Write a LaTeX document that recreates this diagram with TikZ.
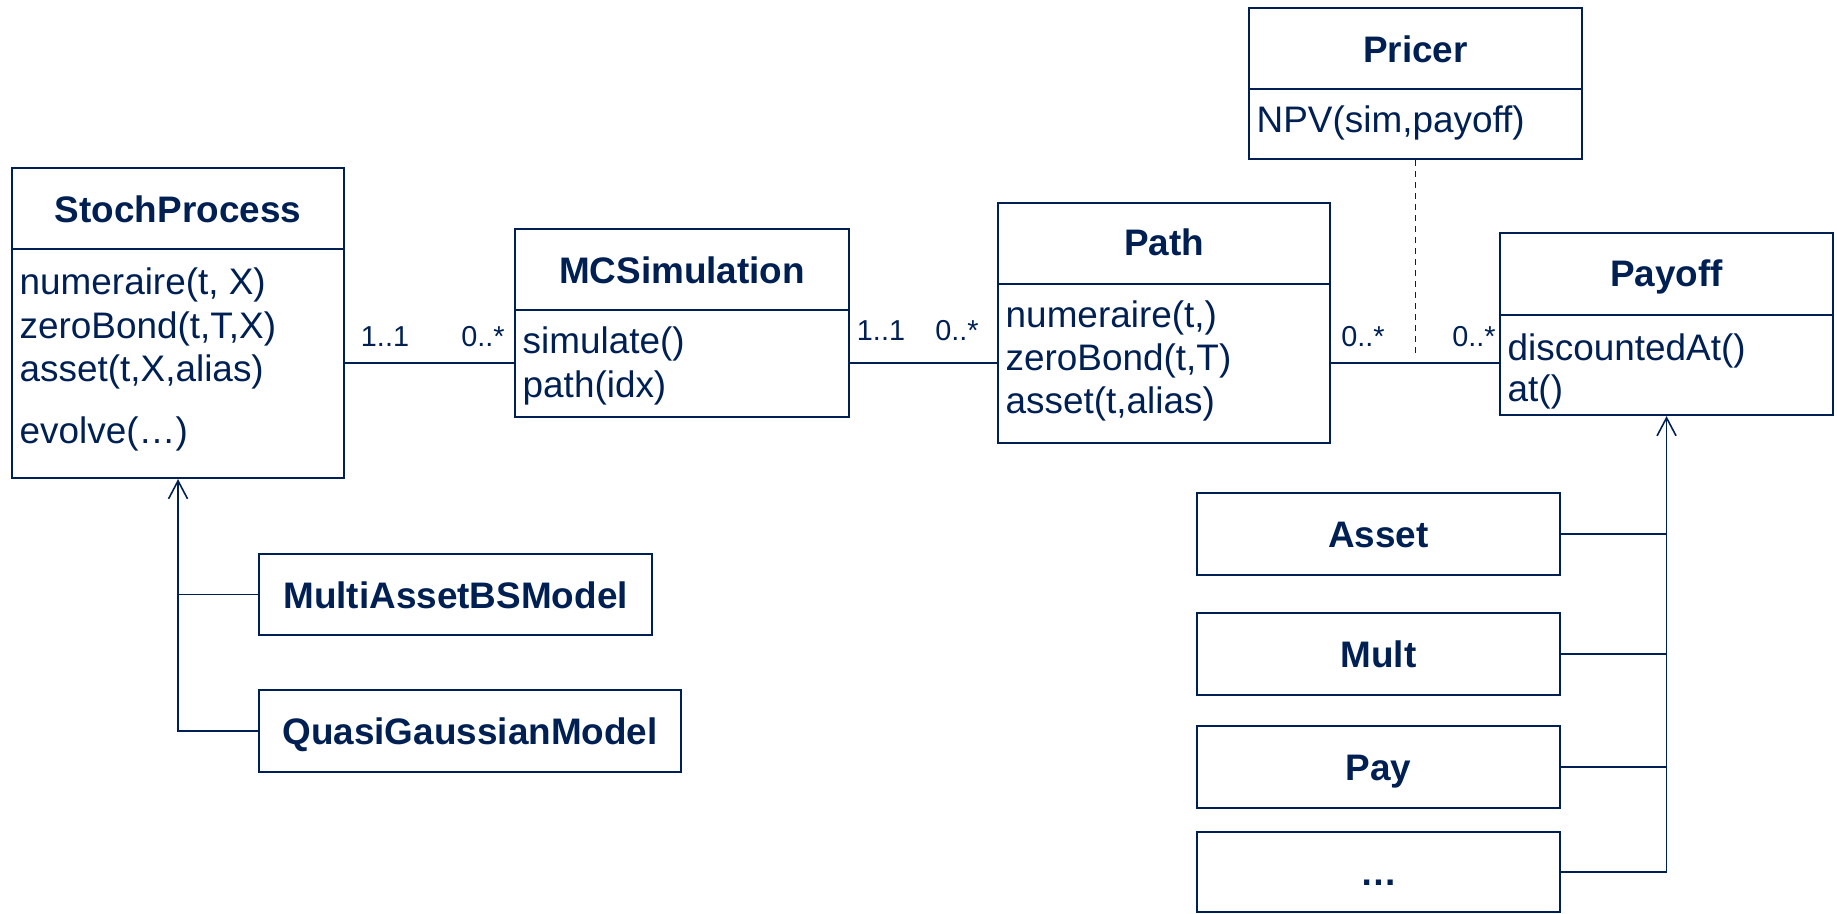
\documentclass[tikz,border=0pt]{standalone}
\usepackage{fontspec}
\setmainfont{Liberation Sans}
\usetikzlibrary{arrows.meta, positioning}
\definecolor{navy}{RGB}{0,32,84}
\tikzset{>={Straight Barb[length=1.8mm,width=1.9mm]}}

\begin{document}
\begin{tikzpicture}[x=0.1mm, y=-0.1mm,
    box/.style={draw=navy, line width=0.6pt, inner sep=0pt, anchor=north west},
    divider/.style={draw=navy, line width=0.6pt},
    title/.style={anchor=base, text=navy, inner sep=0pt, font=\fontsize{10.5}{12}\selectfont\bfseries},
    op/.style={anchor=base west, text=navy, inner sep=0pt, font=\fontsize{10.5}{12}\selectfont},
    card/.style={anchor=base, text=navy, inner sep=0pt, font=\fontsize{8.2}{10}\selectfont},
    link/.style={draw=navy, line width=0.45pt}]

  \useasboundingbox (0,0) rectangle (1837,913);

  % StochProcess
  \node[box, minimum width=33.2mm, minimum height=31mm] (sp) at (11,167) {};
  \draw[divider] (sp.west |- 0,249) -- (sp.east |- 0,249);
  \node[title] (sp-name) at (sp.north |- 0,222) {StochProcess};
  \node[op] (sp-op1) at (19,294) {numeraire(t, X)};
  \node[op] (sp-op2) at (19,338) {zeroBond(t,T,X)};
  \node[op] (sp-op3) at (19,381) {asset(t,X,alias)};
  \node[op] (sp-op4) at (19,443) {evolve(…)};

  % MCSimulation
  \node[box, minimum width=33.4mm, minimum height=18.8mm] (mcs) at (514,228) {};
  \draw[divider] (mcs.west |- 0,310) -- (mcs.east |- 0,310);
  \node[title] (mcs-name) at (mcs.north |- 0,283) {MCSimulation};
  \node[op] (mcs-op1) at (522,353) {simulate()};
  \node[op] (mcs-op2) at (522,397) {path(idx)};

  % Path
  \node[box, minimum width=33.2mm, minimum height=24mm] (pth) at (997,202) {};
  \draw[divider] (pth.west |- 0,284) -- (pth.east |- 0,284);
  \node[title] (pth-name) at (pth.north |- 0,255) {Path};
  \node[op] (pth-op1) at (1005,327) {numeraire(t,)};
  \node[op] (pth-op2) at (1005,370) {zeroBond(t,T)};
  \node[op] (pth-op3) at (1005,413) {asset(t,alias)};

  % Pricer
  \node[box, minimum width=33.3mm, minimum height=15.1mm] (pricer) at (1248,7) {};
  \draw[divider] (pricer.west |- 0,89) -- (pricer.east |- 0,89);
  \node[title] (pricer-name) at (pricer.north |- 0,62) {Pricer};
  \node[op] (pricer-op1) at (1256,132) {NPV(sim,payoff)};

  % Payoff
  \node[box, minimum width=33.3mm, minimum height=18.2mm] (payoff) at (1499,232) {};
  \draw[divider] (payoff.west |- 0,315) -- (payoff.east |- 0,315);
  \node[title] (payoff-name) at (payoff.north |- 0,286) {Payoff};
  \node[op] (payoff-op1) at (1507,360) {discountedAt()};
  \node[op] (payoff-op2) at (1507,401) {at()};

  % payoff subclasses
  \node[box, minimum width=36.3mm, minimum height=8.2mm] (asset) at (1196,492) {};
  \node[title] (asset-name) at ([yshift=-1.35mm]asset.center) {Asset};
  \node[box, minimum width=36.3mm, minimum height=8.2mm] (mlt) at (1196,612) {};
  \node[title] (mlt-name) at ([yshift=-1.35mm]mlt.center) {Mult};
  \node[box, minimum width=36.3mm, minimum height=8.2mm] (pay) at (1196,725) {};
  \node[title] (pay-name) at ([yshift=-1.35mm]pay.center) {Pay};
  \node[box, minimum width=36.3mm, minimum height=8.0mm] (more) at (1196,831) {};
  \node[title] (more-name) at ([yshift=-1.35mm]more.center) {…};

  % model subclasses
  \node[box, minimum width=39.3mm, minimum height=8.1mm] (mabs) at (258,553) {};
  \node[title] (mabs-name) at ([yshift=-1.35mm]mabs.center) {MultiAssetBSModel};
  \node[box, minimum width=42.2mm, minimum height=8.2mm] (qg) at (258,689) {};
  \node[title] (qg-name) at ([yshift=-1.35mm]qg.center) {QuasiGaussianModel};

  % associations
  \draw[link] (sp.east |- 0,363) -- (mcs.west |- 0,363);
  \node[card] (sp-card) at (385,346) {1..1};
  \node[card] (mcs-card1) at (483,346) {0..*};
  \draw[link] (mcs.east |- 0,363) -- (pth.west |- 0,363);
  \node[card] (mcs-card2) at (881,340) {1..1};
  \node[card] (pth-card1) at (957,340) {0..*};
  \draw[link] (pth.east |- 0,363) -- (payoff.west |- 0,363);
  \node[card] (pth-card2) at (1363,346) {0..*};
  \node[card] (payoff-card) at (1474,346) {0..*};

  % pricer uses the association
  \coordinate (dashend) at (pricer.south |- 0,354);
  \draw[link, dash pattern=on 0.6mm off 0.5mm] (pricer.south) -- (dashend);

  % inheritance
  \draw[link, ->] (qg.west) -| (sp.south);
  \draw[link] (mabs.west) -- (mabs.west -| sp.south);
  \draw[link, ->] (more.east) -| (payoff.south);
  \draw[link] (asset.east) -- (asset.east -| payoff.south);
  \draw[link] (mlt.east) -- (mlt.east -| payoff.south);
  \draw[link] (pay.east) -- (pay.east -| payoff.south);
\end{tikzpicture}
\end{document}
